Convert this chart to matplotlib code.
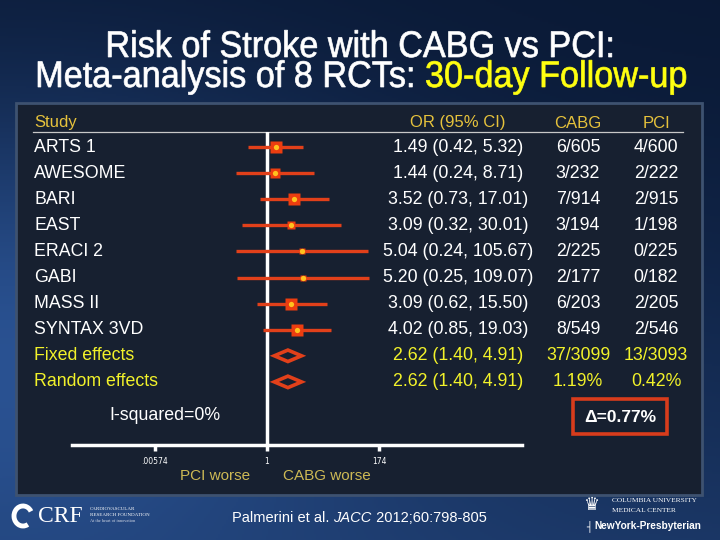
import numpy as np
import matplotlib
matplotlib.use("Agg")
from matplotlib import pyplot as plt
from matplotlib.patches import Rectangle, Polygon, Arc, PathPatch
from matplotlib.textpath import TextPath
from matplotlib.font_manager import FontProperties
from matplotlib.transforms import Affine2D

studies = ["ARTS 1", "AWESOME", "BARI", "EAST", "ERACI 2", "GABI", "MASS II", "SYNTAX 3VD"]
odds = [1.49, 1.44, 3.52, 3.09, 5.04, 5.20, 3.09, 4.02]
lo = [0.42, 0.24, 0.73, 0.32, 0.24, 0.25, 0.62, 0.85]
hi = [5.32, 8.71, 17.01, 30.01, 105.67, 109.07, 15.50, 19.03]
weights = [20, 13, 16, 10, 4, 4, 16, 17]
cabg = ["6/605", "3/232", "7/914", "3/194", "2/225", "2/177", "6/203", "8/549"]
pci = ["4/600", "2/222", "2/915", "1/198", "0/225", "0/182", "2/205", "2/546"]

pooled_names = ["Fixed effects", "Random effects"]
pooled_or = [2.62, 2.62]
pooled_lo = [1.40, 1.40]
pooled_hi = [4.91, 4.91]
pooled_cabg = ["37/3099", "1.19%"]
pooled_pci = ["13/3093", "0.42%"]

ticks = [0.00574, 1, 174]
tick_labels = [".00574", "1", "174"]

title1 = "Risk of Stroke with CABG vs PCI:"
title2a = "Meta-analysis of 8 RCTs: "
title2b = "30-day Follow-up"

W, H = 720, 540
FONT = "Liberation Sans"
fs = 12.8

fig = plt.figure(figsize=(7.2, 5.4), dpi=100)

# background
bg = fig.add_axes([0, 0, 1, 1])
yy, xx = np.mgrid[0:1:270j, 0:1:360j]
dark = np.array([0.04, 0.10, 0.21])
light = np.array([0.18, 0.35, 0.62])
f = 0.65 * np.exp(-((xx - 0.0) ** 2 / 0.3 + (yy - 0.6) ** 2 / 0.2)) + 0.45 * yy ** 1.5
f = np.clip(f, 0, 1)
img = dark + (light - dark) * f[..., None]
bg.imshow(img, extent=[0, W, H, 0], aspect="auto")
bg.set_xlim(0, W)
bg.set_ylim(H, 0)
bg.axis("off")

# panel
bg.add_patch(Rectangle((16, 103), 686, 392, facecolor="#172030", edgecolor="#3e5270", lw=2))

# title as condensed text paths
fp = FontProperties(family=FONT)
cap = 27
sy = cap / 72.9
full2 = TextPath((0, 0), title2a + title2b, size=100, prop=fp)
e2 = full2.get_extents()
sx = 648 / e2.width


def put_path(tp, x0, base, color):
    tr = Affine2D().scale(sx, -sy).translate(x0, base)
    bg.add_patch(PathPatch(tr.transform_path(tp), facecolor=color, edgecolor=color, lw=0.5))


p1 = TextPath((0, 0), title1, size=100, prop=fp)
e1 = p1.get_extents()
put_path(p1, W / 2 - (e1.x0 + e1.width / 2) * sx, 57, "white")
x2 = 38 - e2.x0 * sx
put_path(TextPath((0, 0), title2a, size=100, prop=fp), x2, 87, "white")
pb = TextPath((0, 0), title2b, size=100, prop=fp)
eb = pb.get_extents()
put_path(pb, x2 + (e2.x1 - eb.x1) * sx, 87, "#ffff10")

# column headers
gold = "#e6c23c"
yellow = "#f2f22a"
bg.text(34, 123, "Study", color=gold, fontsize=12, family=FONT, va="center")
bg.text(458, 123, "OR (95% CI)", color=gold, fontsize=12, family=FONT, va="center", ha="center")
bg.text(578, 123, "CABG", color=gold, fontsize=12, family=FONT, va="center", ha="center")
bg.text(656, 123, "PCI", color=gold, fontsize=12, family=FONT, va="center", ha="center")
bg.plot([33, 683], [131.5, 131.5], color="#c8c8c8", lw=0.9)

# forest axes: x=1 at px 267, 50 px per decade, axis line at px 445
row0, step = 147, 26.1
top_px, bot_px = 131.5, 445
ax = fig.add_axes([72 / W, 1 - bot_px / H, 450 / W, (bot_px - top_px) / H])
ax.set_xscale("log")
ax.set_xlim(10 ** -3.9, 10 ** 5.1)
ax.set_ylim((bot_px - row0) / step, (top_px - row0) / step)
ax.patch.set_alpha(0)
for s in ["top", "left", "right"]:
    ax.spines[s].set_visible(False)
ax.spines["bottom"].set_color("white")
ax.spines["bottom"].set_linewidth(2.5)
ax.set_yticks([])
ax.set_xticks(ticks)
ax.set_xticklabels(tick_labels, color="white", fontsize=5.5, family="DejaVu Sans")
ax.tick_params(axis="x", colors="white", length=4, width=2.5, pad=5, labelcolor="white")
ax.minorticks_off()
ax.axvline(1, color="white", lw=2.5)

red = "#e2401a"
for i in range(len(studies)):
    ax.plot([lo[i], hi[i]], [i, i], color=red, lw=2.4, solid_capstyle="butt")
    side = 2.8 * np.sqrt(weights[i]) * 0.72
    ax.plot(odds[i], i, marker="s", ms=side, color="#ec3d10", mec="none")
    ax.plot(odds[i], i, marker="o", ms=3.8, color="#ffc21e", mec="none")

for j in range(len(pooled_names)):
    yv = len(studies) + j
    d = 0.22
    ax.add_patch(Polygon([(pooled_lo[j], yv), (pooled_or[j], yv - d), (pooled_hi[j], yv),
                          (pooled_or[j], yv + d)], closed=True, facecolor="#172030",
                         edgecolor=red, lw=2.6))

# table text
for i in range(len(studies)):
    yp = row0 + step * i
    bg.text(34, yp, studies[i], color="white", fontsize=fs, family=FONT, va="center")
    bg.text(458, yp, "%.2f (%.2f, %.2f)" % (odds[i], lo[i], hi[i]), color="white",
            fontsize=fs, family=FONT, va="center", ha="center")
    bg.text(578, yp, cabg[i], color="white", fontsize=fs, family=FONT, va="center", ha="center")
    bg.text(656, yp, pci[i], color="white", fontsize=fs, family=FONT, va="center", ha="center")

for j in range(len(pooled_names)):
    yp = row0 + step * (len(studies) + j)
    bg.text(34, yp, pooled_names[j], color=yellow, fontsize=fs, family=FONT, va="center")
    bg.text(458, yp, "%.2f (%.2f, %.2f)" % (pooled_or[j], pooled_lo[j], pooled_hi[j]),
            color=yellow, fontsize=fs, family=FONT, va="center", ha="center")
    bg.text(578, yp, pooled_cabg[j], color=yellow, fontsize=fs, family=FONT, va="center", ha="center")
    bg.text(656, yp, pooled_pci[j], color=yellow, fontsize=fs, family=FONT, va="center", ha="center")

bg.text(109, 415, "I-squared=0%", color="white", fontsize=fs, family=FONT, va="center")
bg.add_patch(Rectangle((573, 399), 94, 35, facecolor="none", edgecolor="#d83c1c", lw=2.6))
bg.text(620, 417, "\u0394=0.77%", color="white", fontsize=12.5, family=FONT, weight="bold",
        va="center", ha="center")

bg.text(215, 476, "PCI worse", color="#cdb955", fontsize=11, family=FONT, va="center", ha="center")
bg.text(327, 476, "CABG worse", color="#cdb955", fontsize=11, family=FONT, va="center", ha="center")

# footer
t2 = bg.text(232, 518, "Palmerini et al. ", color="white", fontsize=10.5, family=FONT, va="center")
t3 = bg.annotate("JACC", xy=(1, 0), xycoords=t2, color="white", fontsize=10.5, family=FONT,
                 style="italic", va="bottom")
bg.annotate(" 2012;60:798-805", xy=(1, 0), xycoords=t3, color="white", fontsize=10.5,
            family=FONT, va="bottom")

# CRF logo
bg.add_patch(Arc((23, 516), 18, 20, theta1=60, theta2=330, color="white", lw=3.5))
bg.text(38, 516, "CRF", color="white", fontsize=17, family="Liberation Serif", va="center")
bg.text(90, 509, "CARDIOVASCULAR", color="white", fontsize=3.6, family="Liberation Serif", va="center")
bg.text(90, 515, "RESEARCH FOUNDATION", color="white", fontsize=3.6, family="Liberation Serif", va="center")
bg.text(90, 521, "At the heart of innovation", color="#cfd6e4", fontsize=3.2, family="Liberation Serif", va="center")

# Columbia / NYP logo
bg.text(591, 505, "\u265B", color="white", fontsize=13, family="DejaVu Sans", va="center", ha="center")
bg.text(612, 500, "COLUMBIA UNIVERSITY", color="white", fontsize=5.3, family="Liberation Serif", va="center")
bg.text(612, 511, "MEDICAL CENTER", color="white", fontsize=5.3, family="Liberation Serif", va="center")
bg.text(586, 526, "\u2524", color="white", fontsize=7, family="DejaVu Sans", va="center")
bg.text(594, 526, "NewYork-Presbyterian", color="white", fontsize=7.3, family=FONT,
        weight="bold", va="center")

fig.savefig("out.png", dpi=100)
